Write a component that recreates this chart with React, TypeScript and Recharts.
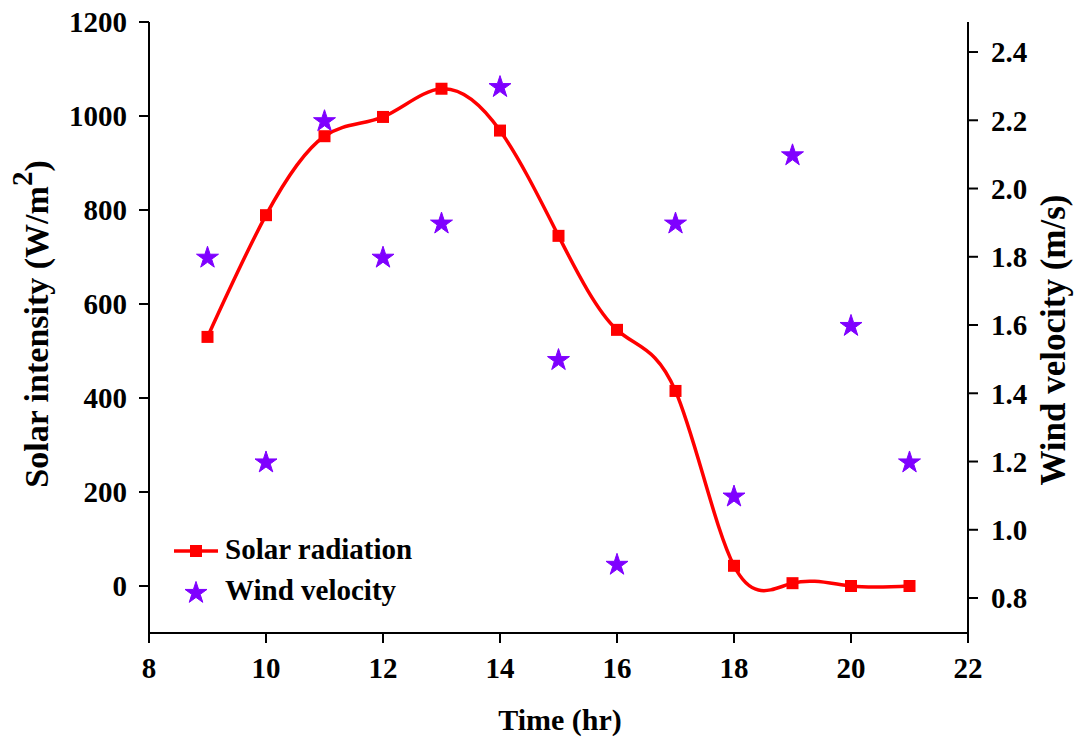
import React from 'react';
import { ComposedChart, Line, Scatter, XAxis, YAxis, Symbols } from 'recharts';

const times = [9, 10, 11, 12, 13, 14, 15, 16, 17, 18, 19, 20, 21];
const solarRadiation = [530, 789, 957, 998, 1058, 969, 745, 545, 415, 43, 6, 0, 0];
const windVelocity = [1.8, 1.2, 2.2, 1.8, 1.9, 2.3, 1.5, 0.9, 1.9, 1.1, 2.1, 1.6, 1.2];
const xTicks = [8, 10, 12, 14, 16, 18, 20, 22];
const leftTicks = [0, 200, 400, 600, 800, 1000, 1200];
const rightTicks = [0.8, 1.0, 1.2, 1.4, 1.6, 1.8, 2.0, 2.2, 2.4];

const data = times.map((t, i) => ({ time: t, solar: solarRadiation[i], wind: windVelocity[i] }));

const FONT = '"Liberation Serif", "Times New Roman", serif';
const RED = '#FF0000';
const PURPLE = '#7F00FF';

const tickStyle = { fill: '#000', fontSize: 29, fontFamily: FONT, fontWeight: 'bold' } as any;
const lineStyle = { stroke: '#000', strokeWidth: 2 };

const SquareDot = (props: any) => {
  const { cx, cy, index } = props;
  if (cx == null || cy == null) return <g key={`d${index}`} />;
  return <rect key={`d${index}`} x={cx - 6} y={cy - 6} width={12} height={12} fill={RED} />;
};

const StarShape = (props: any) => {
  const { cx, cy } = props;
  return <Symbols cx={cx} cy={cy + 1} type="star" size={150} fill={PURPLE} stroke={PURPLE} strokeWidth={1} strokeLinejoin="round" />;
};

export default function App() {
  return (
    <div style={{ position: 'absolute', left: 0, top: 0, width: 1075, height: 740, background: '#fff' }}>
      <ComposedChart width={1075} height={740} data={data} margin={{ top: 22, right: 0, bottom: 0, left: 0 }}>
        <XAxis
          xAxisId="bottom"
          dataKey="time"
          type="number"
          domain={[8, 22]}
          ticks={xTicks}
          allowDataOverflow
          height={107}
          tick={tickStyle}
          tickLine={lineStyle}
          axisLine={lineStyle}
          tickSize={10}
          tickMargin={14}
          label={{
            content: () => (
              <text x={560} y={730} textAnchor="middle" fontFamily={FONT} fontWeight="bold" fontSize={30} fill="#000">
                Time (hr)
              </text>
            ),
          } as any}
        />
        <XAxis
          xAxisId="top"
          dataKey="time"
          type="number"
          orientation="top"
          domain={[8, 22]}
          ticks={xTicks}
          allowDataOverflow
          height={0}
          tick={false}
          tickLine={false}
          axisLine={lineStyle}
        />
        <YAxis
          yAxisId="left"
          type="number"
          domain={[-100, 1200]}
          ticks={leftTicks}
          allowDataOverflow
          width={149}
          tick={tickStyle}
          tickLine={lineStyle}
          axisLine={lineStyle}
          tickSize={10}
          tickMargin={12}
          label={{
            content: () => (
              <text x={48} y={324} transform="rotate(-90 48 324)" textAnchor="middle" fontFamily={FONT} fontWeight="bold" fontSize={34} fill="#000">
                Solar intensity (W/m<tspan dy={-16} fontSize={29}>2</tspan><tspan dy={16}>)</tspan>
              </text>
            ),
          } as any}
        />
        <YAxis
          yAxisId="right"
          orientation="right"
          type="number"
          domain={[0.6975, 2.488]}
          ticks={rightTicks}
          allowDataOverflow
          width={107}
          tick={tickStyle}
          tickFormatter={(v: number) => v.toFixed(1)}
          tickLine={lineStyle}
          axisLine={lineStyle}
          tickSize={10}
          tickMargin={13}
          label={{
            content: () => (
              <text x={1065} y={340} transform="rotate(-90 1065 340)" textAnchor="middle" fontFamily={FONT} fontWeight="bold" fontSize={35} fill="#000">
                Wind velocity (m/s)
              </text>
            ),
          } as any}
        />
        <Line
          xAxisId="bottom"
          yAxisId="left"
          type="natural"
          dataKey="solar"
          stroke={RED}
          strokeWidth={3.5}
          dot={SquareDot}
          activeDot={false}
          isAnimationActive={false}
        />
        <Scatter
          xAxisId="bottom"
          yAxisId="right"
          dataKey="wind"
          fill={PURPLE}
          shape={StarShape}
          isAnimationActive={false}
        />
      </ComposedChart>
      <svg width={300} height={90} style={{ position: 'absolute', left: 160, top: 528 }}>
        <line x1={14} y1={23} x2={58} y2={23} stroke={RED} strokeWidth={3.5} />
        <rect x={30} y={17} width={12} height={12} fill={RED} />
        <text x={65} y={31} fontFamily={FONT} fontWeight="bold" fontSize={29} fill="#000">Solar radiation</text>
        <Symbols cx={36} cy={65} type="star" size={150} fill={PURPLE} stroke={PURPLE} strokeWidth={1} strokeLinejoin="round" />
        <text x={65} y={72} fontFamily={FONT} fontWeight="bold" fontSize={29} fill="#000">Wind velocity</text>
      </svg>
    </div>
  );
}
